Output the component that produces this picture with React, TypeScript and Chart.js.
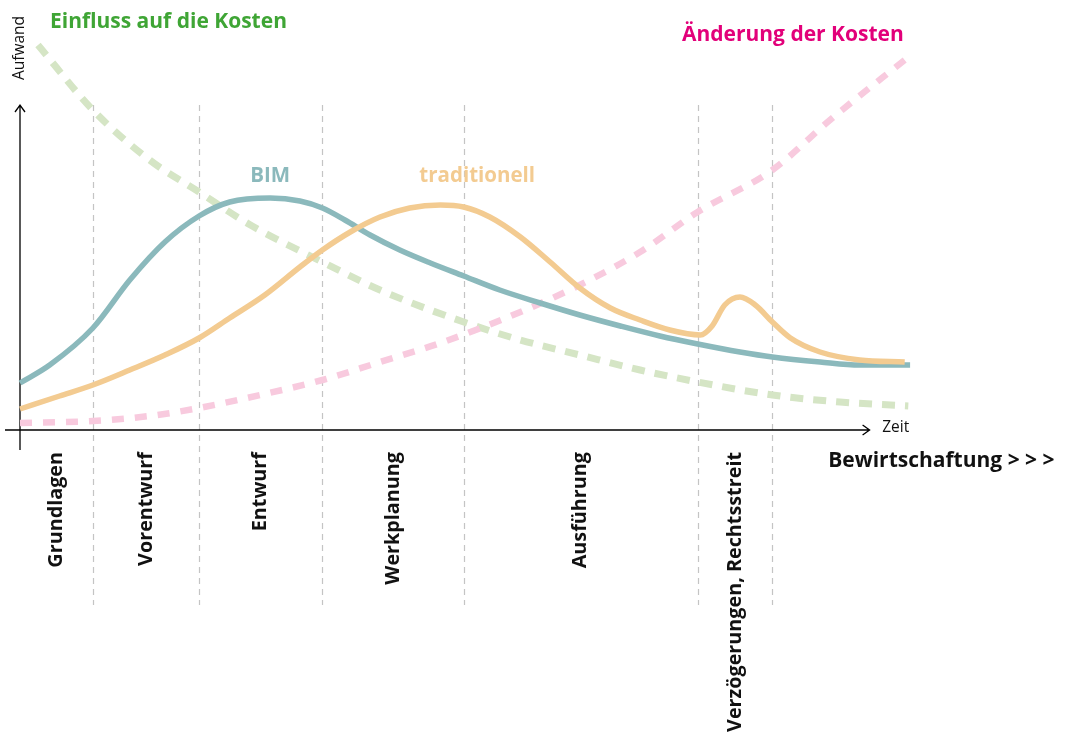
import React, { useEffect, useRef } from "react";
import { Chart, registerables } from "chart.js";

Chart.register(...registerables);

// Time axis 0..100, effort axis 0..100
const bimX = [0, 3.3, 8.1, 12.2, 16.1, 19.9, 23.3, 27.8, 31.1, 33.6, 36.1, 38.9, 42.2, 45.6, 49.3, 53.3, 57.8, 62.2, 66.7, 71.1, 75.3, 80, 83.6, 88.9, 93.3, 98.9];
const bimY = [11.75, 16.25, 25.5, 37.5, 47, 53.5, 57, 58, 57.25, 55.5, 52.5, 48.75, 45, 41.75, 38.5, 35, 31.75, 28.75, 26, 23.5, 21.5, 19.5, 18.25, 17, 16.25, 16.25];

const tradX = [0, 4.4, 8.1, 12.2, 16.1, 19.9, 23.3, 27.2, 31.1, 33.6, 36.7, 40, 43.3, 46.7, 49.3, 52.2, 55.6, 58.9, 62.2, 65.6, 68.9, 72.2, 75.6, 76.9, 78.3, 80, 81.7, 83.6, 85.6, 88.9, 93.3, 98.3];
const tradY = [5.25, 8.5, 11.25, 15, 18.75, 23, 28, 33.75, 40.75, 45, 49.5, 53.25, 55.5, 56.25, 55.75, 53.25, 48.25, 42, 35.5, 30.5, 27.5, 25, 23.75, 26, 31.25, 33.25, 31.25, 27, 23, 19.5, 17.5, 17];

const einflussX = [2, 8.1, 14.4, 19.9, 25.6, 33.6, 40, 49.3, 55.6, 62.2, 68.9, 75.3, 83.6, 91.1, 98.7];
const einflussY = [96.25, 80, 67.5, 59.5, 51.25, 42, 35, 27, 22.5, 18.75, 15, 12, 8.75, 7, 6];

const aenderungX = [0, 8.1, 14.4, 19.9, 26.7, 33.6, 40, 46.7, 55.6, 62.2, 68.9, 75.3, 83.6, 90, 98.7];
const aenderungY = [1.75, 2.25, 3.5, 5.5, 8.75, 12.5, 17, 21.75, 29.5, 36.25, 44.5, 54.5, 65, 77.5, 93.25];

const phaseBounds = [0, 8.1, 19.9, 33.6, 49.3, 75.3, 83.6];
const phaseNames = ["Grundlagen", "Vorentwurf", "Entwurf", "Werkplanung", "Ausführung", "Verzögerungen, Rechtsstreit"];

const FONT = "'Open Sans', 'Noto Sans', sans-serif";

function pts(xs: number[], ys: number[]) {
  return xs.map((x, i) => ({ x, y: ys[i] }));
}

const overlay = {
  id: "overlay",
  beforeDatasetsDraw(chart: any) {
    const { ctx, scales } = chart;
    const X = (v: number) => scales.x.getPixelForValue(v);
    const Y = (v: number) => scales.y.getPixelForValue(v);
    ctx.save();
    // phase boundaries
    ctx.strokeStyle = "#c4c4c4";
    ctx.lineWidth = 1.2;
    ctx.setLineDash([6, 5]);
    phaseBounds.slice(1).forEach((b) => {
      ctx.beginPath();
      ctx.moveTo(Math.round(X(b)) + 0.5, Y(81.25));
      ctx.lineTo(Math.round(X(b)) + 0.5, Y(-43.75));
      ctx.stroke();
    });
    ctx.setLineDash([]);
    // axes
    ctx.strokeStyle = "#000";
    ctx.lineWidth = 1.3;
    const ax0 = X(-1.67), ax1 = X(94.4), ay = Y(0);
    ctx.beginPath();
    ctx.moveTo(ax0, ay);
    ctx.lineTo(ax1, ay);
    ctx.moveTo(ax1 - 7, ay - 5);
    ctx.lineTo(ax1, ay);
    ctx.lineTo(ax1 - 7, ay + 5);
    ctx.stroke();
    const yx = X(0), yy0 = Y(-5), yy1 = Y(81.25);
    ctx.beginPath();
    ctx.moveTo(yx, yy0);
    ctx.lineTo(yx, yy1);
    ctx.moveTo(yx - 5, yy1 + 7);
    ctx.lineTo(yx, yy1);
    ctx.lineTo(yx + 5, yy1 + 7);
    ctx.stroke();
    ctx.restore();
  },
  afterDraw(chart: any) {
    const { ctx, scales } = chart;
    const X = (v: number) => scales.x.getPixelForValue(v);
    const Y = (v: number) => scales.y.getPixelForValue(v);
    ctx.save();
    // phase labels
    ctx.fillStyle = "#111";
    ctx.font = `bold 19.8px ${FONT}`;
    ctx.textAlign = "right";
    ctx.textBaseline = "middle";
    phaseNames.forEach((name, i) => {
      const cx = (X(phaseBounds[i]) + X(phaseBounds[i + 1])) / 2;
      ctx.save();
      ctx.translate(cx, Y(-5.5));
      ctx.rotate(-Math.PI / 2);
      ctx.fillText(name, 0, 0);
      ctx.restore();
    });
    ctx.textAlign = "left";
    ctx.font = `bold 21px ${FONT}`;
    ctx.fillText("Bewirtschaftung > > >", X(89.8), Y(-7.75));
    // axis labels
    ctx.font = `15.5px ${FONT}`;
    ctx.fillText("Zeit", X(95.8), Y(0.5));
    ctx.save();
    ctx.translate(X(0), Y(95.5));
    ctx.rotate(-Math.PI / 2);
    ctx.textAlign = "center";
    ctx.fillText("Aufwand", 0, 0);
    ctx.restore();
    // titles
    ctx.font = `bold 21px ${FONT}`;
    ctx.fillStyle = "#3fa535";
    ctx.textAlign = "left";
    ctx.fillText("Einfluss auf die Kosten", X(3.33), Y(102));
    ctx.fillStyle = "#e2007a";
    ctx.textAlign = "right";
    ctx.fillText("Änderung der Kosten", X(98.2), Y(98.75));
    ctx.font = `bold 20.5px ${FONT}`;
    ctx.textAlign = "center";
    ctx.fillStyle = "#8bb9bc";
    ctx.fillText("BIM", X(27.8), Y(63.5));
    ctx.fillStyle = "#f3cb91";
    ctx.fillText("traditionell", X(50.8), Y(63.5));
    ctx.restore();
  },
};

export default function App() {
  const ref = useRef<HTMLCanvasElement>(null);
  useEffect(() => {
    if (!ref.current) return;
    const chart = new Chart(ref.current, {
      type: "line",
      data: {
        datasets: [
          {
            label: "traditionell",
            data: pts(tradX, tradY),
            borderColor: "#f3cb91",
            borderWidth: 5.5,
            pointRadius: 0,
            cubicInterpolationMode: "monotone",
            fill: false,
            clip: false as any,
          },
          {
            label: "BIM",
            data: pts(bimX, bimY),
            borderColor: "#8bb9bc",
            borderWidth: 5.5,
            pointRadius: 0,
            cubicInterpolationMode: "monotone",
            fill: false,
            clip: false as any,
          },
          {
            label: "Änderung der Kosten",
            data: pts(aenderungX, aenderungY),
            borderColor: "#f8cade",
            borderWidth: 6.5,
            borderDash: [12, 11],
            borderCapStyle: "butt",
            pointRadius: 0,
            cubicInterpolationMode: "monotone",
            fill: false,
            clip: false as any,
          },
          {
            label: "Einfluss auf die Kosten",
            data: pts(einflussX, einflussY),
            borderColor: "#d5e5c5",
            borderWidth: 7,
            borderDash: [13, 10],
            borderCapStyle: "butt",
            pointRadius: 0,
            cubicInterpolationMode: "monotone",
            fill: false,
            clip: false as any,
          },
        ],
      },
      options: {
        responsive: false,
        animation: false,
        layout: { padding: { left: 20, right: 149, top: 30, bottom: 305 } },
        plugins: { legend: { display: false }, tooltip: { enabled: false } },
        scales: {
          x: { type: "linear", min: 0, max: 100, display: false },
          y: { type: "linear", min: 0, max: 100, display: false },
        },
      },
      plugins: [overlay],
    });
    return () => chart.destroy();
  }, []);
  return (
    <div style={{ position: "absolute", left: 0, top: 0, width: 1069, height: 735, background: "#fff" }}>
      <canvas ref={ref} width={1069} height={735} style={{ width: 1069, height: 735, display: "block" }} />
    </div>
  );
}
